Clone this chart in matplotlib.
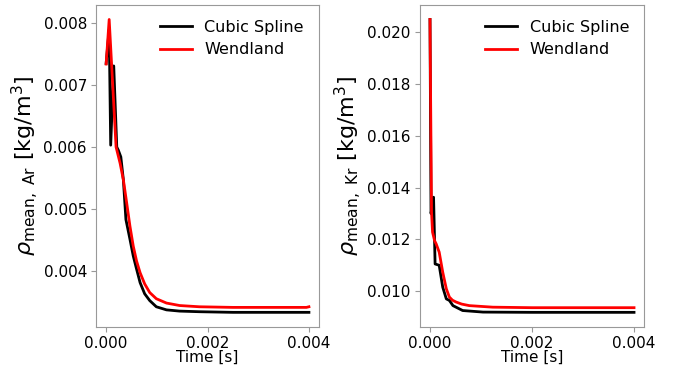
import matplotlib
matplotlib.use("Agg")
import matplotlib.pyplot as plt

# Left panel (Ar)
t_ar_cubic = [0.0, 0.00006, 0.00009, 0.00015, 0.00021, 0.00024, 0.00029, 0.00034, 0.00039,
              0.00047, 0.000535, 0.0006, 0.00067, 0.00076, 0.00086, 0.00099, 0.00119,
              0.00145, 0.00184, 0.0025, 0.004]
rho_ar_cubic = [0.00735, 0.0079, 0.00603, 0.00731, 0.0060, 0.00595, 0.00584, 0.00547, 0.00483,
                0.00451, 0.00424, 0.00403, 0.00381, 0.00363, 0.00352, 0.00342, 0.00337,
                0.00335, 0.00334, 0.00333, 0.00333]
t_ar_wend = [0.0, 0.00006, 0.000196, 0.000275, 0.00034, 0.000405, 0.00047, 0.000535,
             0.0006, 0.00067, 0.00076, 0.00086, 0.00099, 0.00119, 0.00145, 0.00184,
             0.0025, 0.00395, 0.004]
rho_ar_wend = [0.00734, 0.00806, 0.0060, 0.00574, 0.00547, 0.0051, 0.00472, 0.0044,
               0.00416, 0.00397, 0.00379, 0.00365, 0.00355, 0.00348, 0.00344, 0.00342,
               0.00341, 0.00341, 0.00342]

# Right panel (Kr)
t_kr_cubic = [0.0, 0.00002, 0.00007, 0.0001, 0.00018, 0.00025, 0.00032, 0.00038,
              0.00045, 0.00064, 0.00104, 0.002, 0.004]
rho_kr_cubic = [0.0205, 0.0130, 0.01363, 0.01105, 0.0110, 0.01015, 0.0097, 0.00964,
                0.00944, 0.00925, 0.00919, 0.00918, 0.00918]
t_kr_wend = [0.0, 0.00003, 0.00005, 0.00009, 0.00012, 0.00018, 0.00025, 0.00032, 0.00038,
             0.00044, 0.00051, 0.00062, 0.00077, 0.00123, 0.002, 0.004]
rho_kr_wend = [0.0205, 0.01305, 0.01228, 0.01195, 0.01183, 0.01151, 0.01073, 0.01009, 0.00977,
               0.00965, 0.00958, 0.0095, 0.00944, 0.00938, 0.00936, 0.00936]

xticks = [0.0, 0.002, 0.004]
labels = ["Cubic Spline", "Wendland"]

fig = plt.figure(figsize=(6.76, 3.72), dpi=100)
ax1 = fig.add_axes([0.142, 0.121, 0.330, 0.866])
ax2 = fig.add_axes([0.621, 0.121, 0.332, 0.866])

fs = 11
for ax, tc, rc, tw, rw, ylab, yt in [
    (ax1, t_ar_cubic, rho_ar_cubic, t_ar_wend, rho_ar_wend,
     r"$\rho_{\mathrm{mean,\ Ar}}$ [kg/m$^3$]", [0.004, 0.005, 0.006, 0.007, 0.008]),
    (ax2, t_kr_cubic, rho_kr_cubic, t_kr_wend, rho_kr_wend,
     r"$\rho_{\mathrm{mean,\ Kr}}$ [kg/m$^3$]", [0.010, 0.012, 0.014, 0.016, 0.018, 0.020]),
]:
    ax.plot(tc, rc, color="black", lw=2, label=labels[0])
    ax.plot(tw, rw, color="red", lw=2, label=labels[1])
    ax.set_xticks(xticks)
    ax.set_xticklabels([f"{v:.3f}" for v in xticks])
    ax.set_yticks(yt)
    ax.set_yticklabels([f"{v:.3f}" for v in yt])
    ax.tick_params(labelsize=fs, color="#999999", pad=3)
    for s in ax.spines.values():
        s.set_color("#999999")
    ax.set_xlabel("Time [s]", fontsize=fs, labelpad=-1)
    ax.set_ylabel(ylab, fontsize=16, labelpad=2)
    ax.legend(frameon=False, fontsize=11.5, loc="upper right", borderaxespad=0.55,
              labelspacing=0.45)

fig.savefig("out.png", dpi=100)
